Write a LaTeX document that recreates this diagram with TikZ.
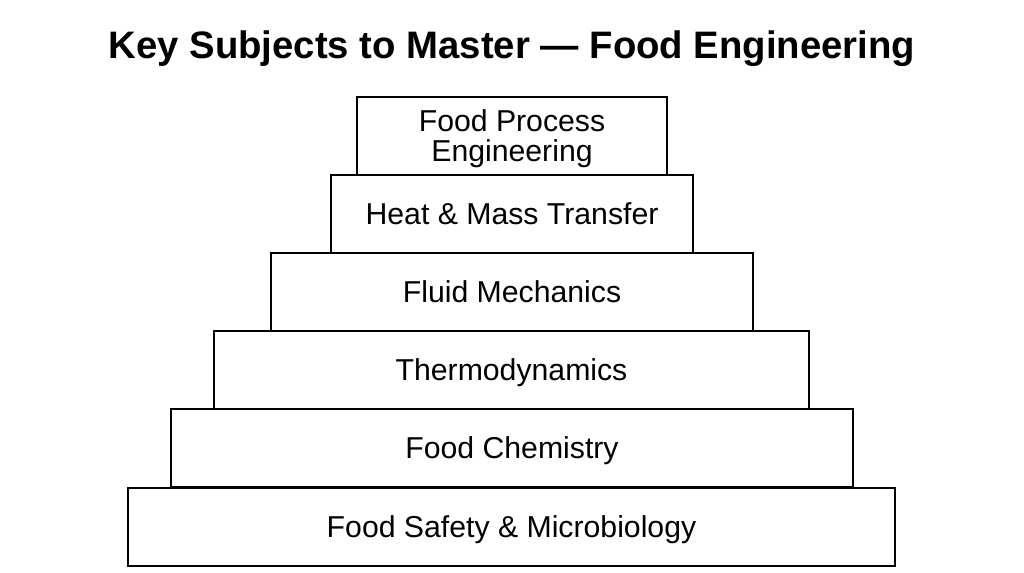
\documentclass[tikz,border=0pt]{standalone}
\usepackage{fontspec}
\setmainfont{Liberation Sans}
\usetikzlibrary{positioning}

\tikzset{
  tier/.style={draw, line width=1.1pt, rectangle, minimum height=1.56cm,
    inner sep=0pt, align=center, text height=12.3pt, text depth=0pt,
    font=\fontsize{17.2}{17}\selectfont},
}

\begin{document}
\begin{tikzpicture}[x=0.02cm, y=-0.02cm]
    \useasboundingbox (0,0) rectangle (1024,572);
    \node[font=\bfseries\fontsize{21.8}{25}\selectfont, text height=15.6pt, text depth=0pt] (title) at (512,45) {Key Subjects to Master --- Food Engineering};
    % tiers, bottom row is widest
    \node[tier, minimum width=15.34cm] (safety)  at (511.5,527) {Food Safety \& Microbiology};
    \node[tier, minimum width=13.64cm] (chem)    at (512,448)   {Food Chemistry};
    \node[tier, minimum width=11.90cm] (thermo)  at (511.5,370) {Thermodynamics};
    \node[tier, minimum width=9.64cm]  (fluid)   at (512,292)   {Fluid Mechanics};
    \node[tier, minimum width=7.24cm]  (heat)    at (512,214)   {Heat \& Mass Transfer};
    \node[tier, minimum width=6.20cm, text height=29.3pt] (process) at (512,136) {Food Process\\Engineering};
\end{tikzpicture}
\end{document}
